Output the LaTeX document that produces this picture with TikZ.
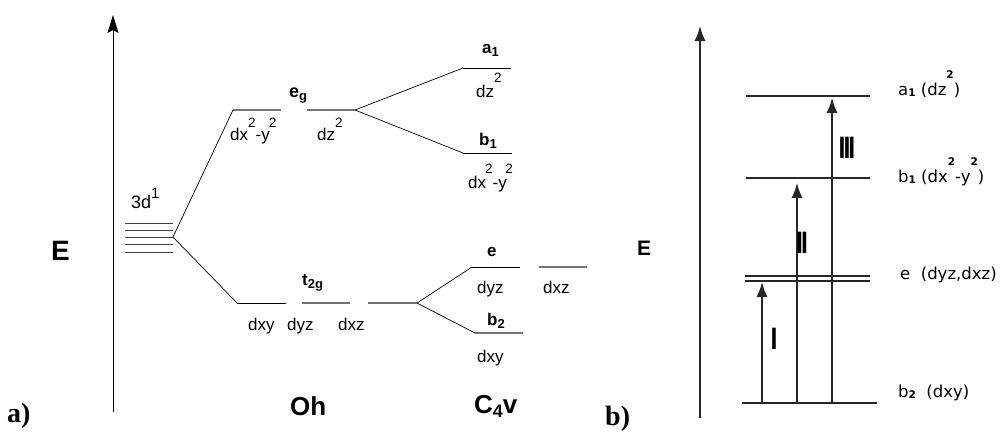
\documentclass[tikz,border=0pt]{standalone}
\usepackage{fontspec}
\setmainfont{Liberation Sans}
\newfontfamily\serifb{Liberation Serif}
\newfontfamily\pixf{DejaVu Sans}
\usetikzlibrary{arrows.meta}
\newcommand{\fsz}[1]{\fontsize{#1}{#1}\selectfont}
\newcommand{\supr}[2]{\raisebox{#1}{\fsz{13.5}#2}}
\newcommand{\subr}[2]{\raisebox{-#1}{\fsz{13}#2}}
\newcommand{\rsup}[1]{\raisebox{17pt}{\fsz{10.5}\bfseries #1}}
\newcommand{\rsub}[1]{\raisebox{-1pt}{\fsz{10.5}\bfseries #1}}
\tikzset{
  blvl/.style={line width=0.9pt, black},
  glvl/.style={line width=1.1pt, black!55},
  conn/.style={line width=0.7pt, black},
  lab/.style={font=\fsz{17}, inner sep=0pt, anchor=base west},
  blab/.style={font=\fsz{17}\bfseries, inner sep=0pt, anchor=base west},
  biglab/.style={font=\fsz{26}\bfseries, inner sep=0pt, anchor=base west},
  panlab/.style={font=\serifb\fsz{28}\bfseries, inner sep=0pt, anchor=base west},
  rlvl/.style={line width=1.4pt, black!85},
  rarr/.style={line width=1.4pt, black!85, -{Latex[length=15pt,width=11pt]}},
  rlab/.style={font=\pixf\fsz{16.5}, inner sep=0pt, anchor=base west},
  roman/.style={font=\fsz{31}\bfseries, inner sep=0pt, anchor=center},
}
\begin{document}
\begin{tikzpicture}[x=1pt,y=-1pt]
\useasboundingbox (0,0) rectangle (1004,437);
% ---------------- panel a ----------------
\coordinate (axA0) at (113,412);
\coordinate (axA1) at (113,15);
\draw[line width=0.9pt, -{Stealth[length=18pt,width=11pt,inset=3pt]}] (axA0) -- (axA1);
\node[font=\fsz{28}\bfseries, inner sep=0pt, anchor=base west] (EA) at (51,260) {E};
\node[panlab] (pa) at (7,422) {a)};
% 3d levels
\foreach \yy/\nm in {223/d1,230/d2,237/d3,244/d4,252/d5}{
  \coordinate (\nm L) at (125,\yy);
  \coordinate (\nm R) at (173,\yy);
  \draw[line width=0.8pt, black!75] (\nm L) -- (\nm R);
}
\node[lab, font=\fsz{18}] (l3d) at (131,208) {3d\raisebox{10pt}{\fsz{15}1}};
% eg
\coordinate (egAL) at (233,110); \coordinate (egAR) at (281,110);
\coordinate (egBL) at (307,110); \coordinate (egBR) at (355,110);
\draw[glvl] (egAL) -- (egAR);
\draw[glvl] (egBL) -- (egBR);
\draw[conn] (d3R) -- (egAL);
\node[blab, font=\fsz{18}\bfseries] (eg) at (289,97) {e\subr{3pt}{g}};
\node[lab] (egdx) at (230,140) {dx\supr{13pt}{2}-y\kern-1pt\supr{13pt}{2}};
\node[lab] (egdz) at (317,140) {dz\supr{13pt}{2}};
% a1, b1
\coordinate (a1L) at (463,68); \coordinate (a1R) at (511,68);
\coordinate (b1L) at (463,153); \coordinate (b1R) at (512,153);
\draw[blvl] (a1L) -- (a1R);
\draw[blvl] (b1L) -- (b1R);
\draw[conn] (egBR) -- (a1L);
\draw[conn] (egBR) -- (b1L);
\node[blab] (a1) at (482,53) {a\subr{3pt}{1}};
\node[lab] (a1dz) at (476,97) {dz\supr{15pt}{2}};
\node[blab] (b1) at (479,145) {b\subr{3pt}{1}};
\node[lab] (b1dx) at (468,188) {dx\kern-1pt\supr{15pt}{2}-y\kern-1.5pt\supr{15pt}{2}};
% t2g
\coordinate (tAL) at (237,303); \coordinate (tAR) at (286,303);
\coordinate (tBL) at (302,303); \coordinate (tBR) at (350,303);
\coordinate (tCL) at (368,303); \coordinate (tCR) at (417,303);
\draw[blvl] (tAL) -- (tAR);
\draw[glvl] (tBL) -- (tBR);
\draw[glvl] (tCL) -- (tCR);
\draw[conn] (d3R) -- (tAL);
\node[blab] (t2g) at (302,285) {t\subr{3pt}{2g}};
\node[lab] (tdxy) at (248,330) {dxy};
\node[lab] (tdyz) at (287,330) {dyz};
\node[lab] (tdxz) at (338,330) {dxz};
\node[biglab] (Oh) at (290,415) {Oh};
% e, b2 (C4v)
\coordinate (eL) at (472,267); \coordinate (eR) at (520,267);
\coordinate (e2L) at (539,267); \coordinate (e2R) at (587,267);
\coordinate (b2L) at (475,333); \coordinate (b2R) at (523,333);
\draw[blvl] (eL) -- (eR);
\draw[glvl] (e2L) -- (e2R);
\draw[glvl] (b2L) -- (b2R);
\draw[conn] (tCR) -- (eL);
\draw[conn] (tCR) -- (b2L);
\node[blab] (eC) at (487,256) {e};
\node[lab] (cdyz) at (477,293) {dyz};
\node[lab] (cdxz) at (543,293) {dxz};
\node[blab] (b2) at (487,325) {b\subr{3pt}{2}};
\node[lab] (cdxy) at (477,362) {dxy};
\node[biglab] (C4v) at (474,413) {C\raisebox{-4pt}{\fsz{18}\bfseries 4}v};
% ---------------- panel b ----------------
\coordinate (axB0) at (700,418);
\coordinate (axB1) at (700,26);
\draw[rarr] (axB0) -- (axB1);
\node[font=\fsz{21}\bfseries, inner sep=0pt, anchor=base west] (EB) at (637,255) {E};
\node[panlab] (pb) at (605,425) {b)};
\coordinate (ra1L) at (746,96); \coordinate (ra1R) at (870,96);
\coordinate (rb1L) at (746,178); \coordinate (rb1R) at (870,178);
\coordinate (reAL) at (745,276); \coordinate (reAR) at (870,276);
\coordinate (reBL) at (745,281); \coordinate (reBR) at (870,281);
\coordinate (rb2L) at (742,403); \coordinate (rb2R) at (877,403);
\draw[rlvl] (ra1L) -- (ra1R);
\draw[rlvl] (rb1L) -- (rb1R);
\draw[line width=1.1pt, black!85] (reAL) -- (reAR);
\draw[line width=1.1pt, black!85] (reBL) -- (reBR);
\draw[rlvl] (rb2L) -- (rb2R);
\coordinate (tr1s) at (762,403); \coordinate (tr1e) at (762,282);
\coordinate (tr2s) at (797,403); \coordinate (tr2e) at (797,183);
\coordinate (tr3s) at (832,403); \coordinate (tr3e) at (832,98);
\draw[rarr] (tr1s) -- (tr1e);
\draw[rarr] (tr2s) -- (tr2e);
\draw[rarr] (tr3s) -- (tr3e);
\node[roman] (nI) at (774,339) {\scalebox{0.8}[1]{I}};
\node[roman] (nII) at (802,243) {\scalebox{0.8}[1]{I\kern-2.5pt I}};
\node[roman] (nIII) at (847,148) {\scalebox{0.8}[1]{I\kern-2.5pt I\kern-2.5pt I}};
\node[rlab] (la1) at (898,95) {a\rsub{1} (dz\rsup{2})};
\node[rlab] (lb1) at (898,182) {b\rsub{1} (dx\rsup{2}-y\rsup{2})};
\node[rlab] (le) at (900,279) {e\ \ (dyz,dxz)};
\node[rlab] (lb2) at (898,397) {b\rsub{2}\ \ (dxy)};
\end{tikzpicture}
\end{document}
